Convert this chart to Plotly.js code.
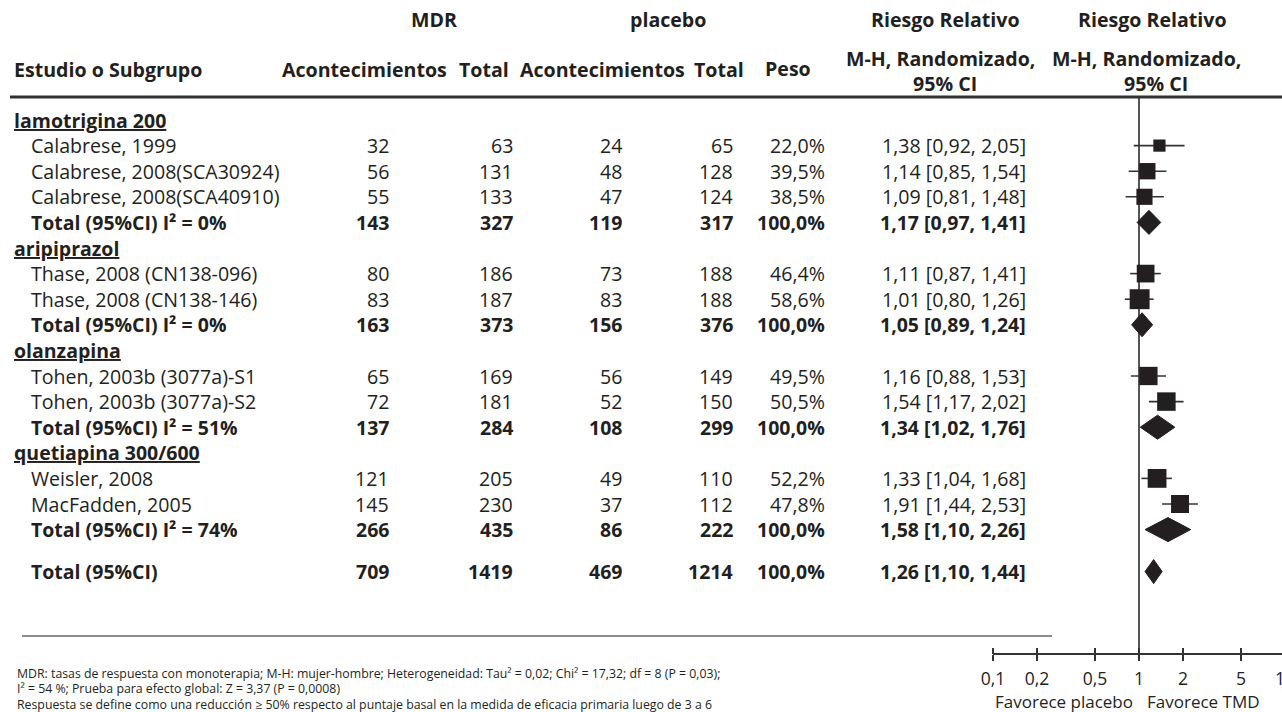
<!DOCTYPE html>
<html><head><meta charset="utf-8">
<script src="https://cdn.plot.ly/plotly-3.0.1.min.js"></script>
<style>html,body{margin:0;padding:0;overflow:hidden;background:#fff;width:1282px;height:712px}#chart{width:1300px;height:712px}</style>
</head><body><div id="chart"></div>
<script>
// ---------------- data ----------------
const subgroups = ['lamotrigina 200', 'aripiprazol', 'olanzapina', 'quetiapina 300/600'];
const studyNames = ['Calabrese, 1999', 'Calabrese, 2008(SCA30924)', 'Calabrese, 2008(SCA40910)',
  'Thase, 2008 (CN138-096)', 'Thase, 2008 (CN138-146)',
  'Tohen, 2003b (3077a)-S1', 'Tohen, 2003b (3077a)-S2',
  'Weisler, 2008', 'MacFadden, 2005'];
const studyGroup = [0, 0, 0, 1, 1, 2, 2, 3, 3];
const mdrEvents = [32, 56, 55, 80, 83, 65, 72, 121, 145];
const mdrTotal = [63, 131, 133, 186, 187, 169, 181, 205, 230];
const pboEvents = [24, 48, 47, 73, 83, 56, 52, 49, 37];
const pboTotal = [65, 128, 124, 188, 188, 149, 150, 110, 112];
const studyWeight = [22.0, 39.5, 38.5, 46.4, 58.6, 49.5, 50.5, 52.2, 47.8];
const studyRR = [1.38, 1.14, 1.09, 1.11, 1.01, 1.16, 1.54, 1.33, 1.91];
const studyLow = [0.92, 0.85, 0.81, 0.87, 0.80, 0.88, 1.17, 1.04, 1.44];
const studyHigh = [2.05, 1.54, 1.48, 1.41, 1.26, 1.53, 2.02, 1.68, 2.53];

const subLabels = ['Total (95%CI) I² = 0%', 'Total (95%CI) I² = 0%', 'Total (95%CI) I² = 51%', 'Total (95%CI) I² = 74%'];
const subMdrEvents = [143, 163, 137, 266];
const subMdrTotal = [327, 373, 284, 435];
const subPboEvents = [119, 156, 108, 86];
const subPboTotal = [317, 376, 299, 222];
const subWeight = [100, 100, 100, 100];
const subRR = [1.17, 1.05, 1.34, 1.58];
const subLow = [0.97, 0.89, 1.02, 1.10];
const subHigh = [1.41, 1.24, 1.76, 2.26];

const overallLabel = 'Total (95%CI)';
const overallMdrEvents = 709, overallMdrTotal = 1419, overallPboEvents = 469, overallPboTotal = 1214;
const overallWeight = 100, overallRR = 1.26, overallLow = 1.10, overallHigh = 1.44;

const axisTickVals = [0.1, 0.2, 0.5, 1, 2, 5, 10];
const axisTickText = ['0,1', '0,2', '0,5', '1', '2', '5', '10'];
const nullEffect = 1;
const favourLeft = 'Favorece placebo';
const favourRight = 'Favorece TMD';
const footnotes = [
  'MDR: tasas de respuesta con monoterapia; M-H: mujer-hombre; Heterogeneidad: Tau² = 0,02; Chi² = 17,32; df = 8 (P = 0,03);',
  'I² = 54 %; Prueba para efecto global: Z = 3,37 (P = 0,0008)',
  'Respuesta se define como una reducción ≥ 50% respecto al puntaje basal en la medida de eficacia primaria luego de 3 a 6'
];

// ---------------- layout constants ----------------
const W = 1300, H = 712;
const FONT = 'Open Sans, Noto Sans, sans-serif';
const INK = '#231f20';
const FS = 19.6, FSB = 19.5, FSH = 19.6;
const row0 = 120, rowStep = 25.6, overallGap = 1.64;
const colX = {name: 13, indent: 30, ev1: 390, tot1: 514, ev2: 623, tot2: 734, peso: 826, rr: 1027};
const axisY = 654, x01 = 993, decade = 146;
const px = v => v / W;
const py = v => 1 - v / H;
const rowOfPx = v => (v - row0) / rowStep;
const fmt2 = v => v.toFixed(2).replace('.', ',');
const fmt1 = v => v.toFixed(1).replace('.', ',');

// ---------------- build rows ----------------
const ann = [];
function txt(t, x, y, xanchor, opts = {}) {
  ann.push({
    text: t, x: px(x), xref: 'paper', y: y, yref: opts.yref || 'y',
    xanchor: xanchor, yanchor: 'middle', showarrow: false, borderpad: 0,
    font: {family: FONT, size: opts.size || (opts.bold ? FSB : FS), color: INK}
  });
}
function dataRow(r, label, e1, t1, e2, t2, w, est, lo, hi, bold) {
  const b = s => bold ? '<b>' + s + '</b>' : s;
  const o = {bold: bold};
  txt(b(label), colX.indent, r, 'left', o);
  txt(b(String(e1)), colX.ev1, r, 'right', o);
  txt(b(String(t1)), colX.tot1, r, 'right', o);
  txt(b(String(e2)), colX.ev2, r, 'right', o);
  txt(b(String(t2)), colX.tot2, r, 'right', o);
  txt(b(fmt1(w) + '%'), colX.peso, r, 'right', o);
  txt(b(fmt2(est) + ' [' + fmt2(lo) + ', ' + fmt2(hi) + ']'), colX.rr, r, 'right', o);
}

const sq = {x: [], y: [], size: []};
const ci = {x: [], y: []};
const diamonds = [];
let r = 0;
subgroups.forEach((g, gi) => {
  txt('<b><u>' + g + '</u></b>', colX.name, r, 'left', {bold: true});
  r++;
  studyNames.forEach((n, i) => {
    if (studyGroup[i] !== gi) return;
    dataRow(r, n, mdrEvents[i], mdrTotal[i], pboEvents[i], pboTotal[i], studyWeight[i], studyRR[i], studyLow[i], studyHigh[i], false);
    sq.x.push(studyRR[i]); sq.y.push(r); sq.size.push(2.6 * Math.sqrt(studyWeight[i]));
    ci.x.push(studyLow[i], studyHigh[i], null); ci.y.push(r, r, null);
    r++;
  });
  dataRow(r, subLabels[gi], subMdrEvents[gi], subMdrTotal[gi], subPboEvents[gi], subPboTotal[gi], subWeight[gi], subRR[gi], subLow[gi], subHigh[gi], true);
  diamonds.push({r: r, est: subRR[gi], lo: subLow[gi], hi: subHigh[gi]});
  r++;
});
const rOverall = r - 1 + overallGap;
dataRow(rOverall, overallLabel, overallMdrEvents, overallMdrTotal, overallPboEvents, overallPboTotal, overallWeight, overallRR, overallLow, overallHigh, true);
diamonds.push({r: rOverall, est: overallRR, lo: overallLow, hi: overallHigh});

// headers
const hb = s => '<b>' + s + '</b>';
const hp = {yref: 'paper', bold: true, size: FSH};
txt(hb('MDR'), 434, py(20), 'center', hp);
txt(hb('placebo'), 668, py(20), 'center', hp);
txt(hb('Riesgo Relativo'), 945, py(20), 'center', hp);
txt(hb('Riesgo Relativo'), 1152, py(20), 'center', hp);
txt(hb('Estudio o Subgrupo'), 13, py(69), 'left', hp);
txt(hb('Acontecimientos'), 364, py(69), 'center', hp);
txt(hb('Total'), 484, py(69), 'center', hp);
txt(hb('Acontecimientos'), 602, py(69), 'center', hp);
txt(hb('Total'), 719, py(69), 'center', hp);
txt(hb('Peso'), 788, py(68), 'center', hp);
txt(hb('M-H, Randomizado,'), 940, py(58), 'center', hp);
txt(hb('95% CI'), 945, py(84), 'center', hp);
txt(hb('M-H, Randomizado,'), 1146, py(58), 'center', hp);
txt(hb('95% CI'), 1156, py(84), 'center', hp);

// footnotes
footnotes.forEach((f, i) => txt(f, 16, py(673 + i * 15.5), 'left', {yref: 'paper', size: 12.3}));

// favour labels (log axis annotation x in log10 units)
ann.push({text: favourLeft, xref: 'x', x: Math.log10(nullEffect), xanchor: 'right', xshift: -4, yref: 'paper', y: py(701), yanchor: 'middle', showarrow: false, font: {family: FONT, size: 17, color: INK}});
ann.push({text: favourRight, xref: 'x', x: Math.log10(nullEffect), xanchor: 'left', xshift: 6, yref: 'paper', y: py(701), yanchor: 'middle', showarrow: false, font: {family: FONT, size: 17, color: INK}});

// ---------------- traces ----------------
const traces = [];
// line of no effect
traces.push({x: [nullEffect, nullEffect], y: [rowOfPx(98), rowOfPx(axisY)], mode: 'lines', line: {color: '#555', width: 2}, hoverinfo: 'skip', cliponaxis: false});
traces.push({x: ci.x, y: ci.y, mode: 'lines', line: {color: '#333', width: 1.6}, hoverinfo: 'skip', cliponaxis: false});
traces.push({x: sq.x, y: sq.y, mode: 'markers', marker: {symbol: 'square', size: sq.size, color: INK, opacity: 1, line: {width: 0}}, opacity: 1, hoverinfo: 'skip', cliponaxis: false});
const dh = 0.47;
diamonds.forEach(d => {
  traces.push({x: [d.lo, d.est, d.hi, d.est, d.lo], y: [d.r, d.r - dh, d.r, d.r + dh, d.r], mode: 'lines', fill: 'toself',
    fillcolor: INK, line: {color: INK, width: 1}, hoverinfo: 'skip'});
});
// helper trace for upper tick axis
traces.push({x: [1], y: [0], xaxis: 'x2', mode: 'markers', marker: {opacity: 0}, hoverinfo: 'skip'});

const xr = [-1, -1 + (W - x01) / decade];
const layout = {
  width: W, height: H, margin: {l: 0, r: 0, t: 0, b: 0},
  paper_bgcolor: '#fff', plot_bgcolor: 'rgba(0,0,0,0)', showlegend: false,
  xaxis: {type: 'log', domain: [px(x01), 1], range: xr, anchor: 'free', position: 1 - axisY / H,
    showline: true, linecolor: '#333', linewidth: 2, ticks: 'outside', ticklen: 6, tickwidth: 1.5, tickcolor: '#333',
    tickvals: axisTickVals, ticktext: axisTickText, tickfont: {family: FONT, size: 17.5, color: INK},
    showgrid: false, zeroline: false, fixedrange: true, ticklabelstandoff: 3},
  xaxis2: {type: 'log', overlaying: 'x', matches: 'x', domain: [px(x01), 1], range: xr, anchor: 'free', position: 1 - axisY / H, side: 'top',
    showline: false, ticks: 'outside', ticklen: 6, tickwidth: 1.5, tickcolor: '#333',
    tickvals: axisTickVals, showticklabels: false, showgrid: false, zeroline: false, fixedrange: true},
  yaxis: {range: [(H - row0) / rowStep, -row0 / rowStep], domain: [0, 1], visible: false, fixedrange: true},
  annotations: ann,
  shapes: [
    {type: 'line', xref: 'paper', yref: 'paper', x0: px(10), x1: 1, y0: py(97), y1: py(97), line: {color: '#333', width: 3}},
    {type: 'line', xref: 'paper', yref: 'paper', x0: px(22), x1: px(1052), y0: py(636), y1: py(636), line: {color: '#666', width: 1.5}}
  ]
};
Plotly.newPlot('chart', traces, layout, {staticPlot: true, displayModeBar: false});
</script></body></html>
